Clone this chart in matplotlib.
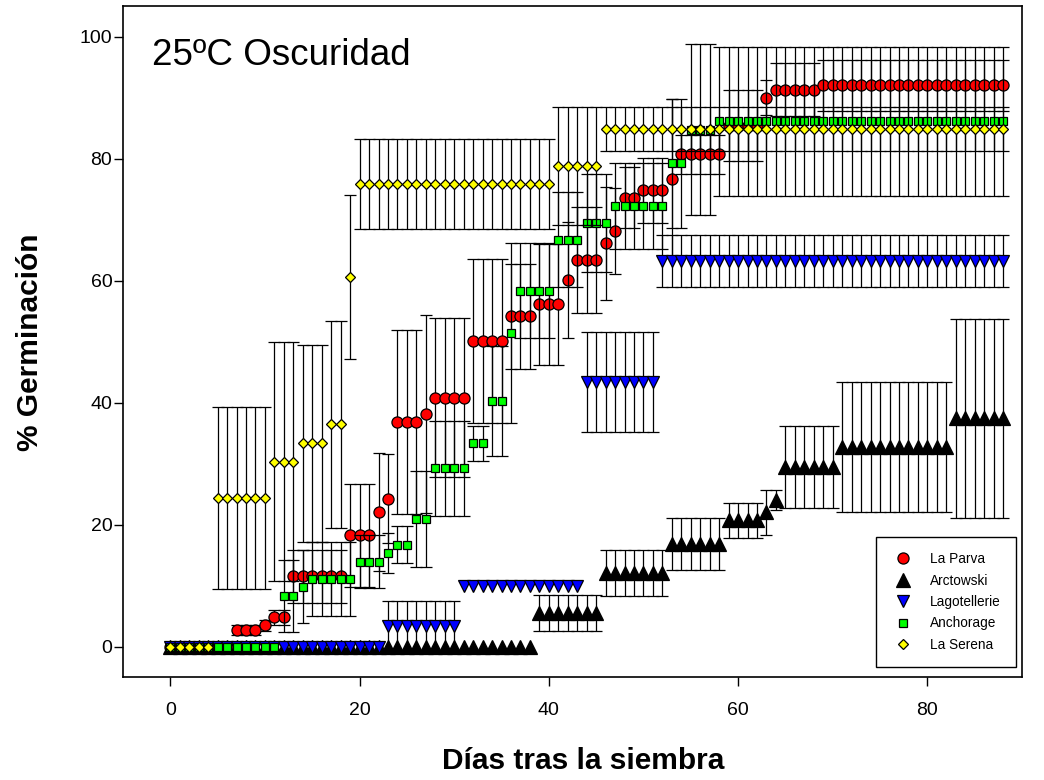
import numpy as np
import matplotlib
matplotlib.use("Agg")
import matplotlib.pyplot as plt
from matplotlib.lines import Line2D

plt.rcParams['font.family'] = ['Liberation Sans', 'DejaVu Sans']

# ---------------- data ----------------
days = list(range(89))

parva = [0, 0, 0, 0, 0, 0, 0, 2.7, 2.7, 2.7,
         3.5, 4.8, 4.8, 11.5, 11.5, 11.5, 11.5, 11.5, 11.5, 18.2,
         18.2, 18.2, 22.1, 24.2, 36.8, 36.8, 36.8, 38.1, 40.8, 40.8,
         40.8, 40.8, 50.1, 50.1, 50.1, 50.1, 54.1, 54.1, 54.1, 56.1,
         56.1, 56.1, 60.1, 63.4, 63.4, 63.4, 66.1, 68.1, 73.6, 73.6,
         74.8, 74.8, 74.8, 76.7, 80.7, 80.7, 80.7, 80.7, 80.7, 85.4,
         85.4, 85.4, 85.4, 90.0, 91.3, 91.3, 91.3, 91.3, 91.3, 92.0,
         92.0, 92.0, 92.0, 92.0, 92.0, 92.0, 92.0, 92.0, 92.0, 92.0,
         92.0, 92.0, 92.0, 92.0, 92.0, 92.0, 92.0, 92.0, 92.0]
parva_err = [0, 0, 0, 0, 0, 0, 0, 0.8, 0.8, 0.8,
             0.9, 1.2, 1.2, 4.3, 4.3, 4.3, 4.3, 4.3, 4.3, 8.4,
             8.4, 8.4, 9.7, 7.3, 15.1, 15.1, 15.1, 16.2, 13.0, 13.0,
             13.0, 13.0, 13.4, 13.4, 13.4, 13.4, 8.6, 8.6, 8.6, 9.9,
             9.9, 9.9, 9.5, 8.7, 8.7, 8.7, 9.3, 7.0, 5.0, 5.0,
             5.3, 5.3, 5.3, 13.0, 3.2, 3.2, 3.2, 3.2, 3.2, 5.8,
             5.8, 5.8, 5.8, 2.8, 4.4, 4.4, 4.4, 4.4, 4.4, 4.2,
             4.2, 4.2, 4.2, 4.2, 4.2, 4.2, 4.2, 4.2, 4.2, 4.2,
             4.2, 4.2, 4.2, 4.2, 4.2, 4.2, 4.2, 4.2, 4.2]

arct = [0, 0, 0, 0, 0, 0, 0, 0, 0, 0,
        0, 0, 0, 0, 0, 0, 0, 0, 0, 0,
        0, 0, 0, 0, 0, 0, 0, 0, 0, 0,
        0, 0, 0, 0, 0, 0, 0, 0, 0, 5.5,
        5.5, 5.5, 5.5, 5.5, 5.5, 5.5, 12.0, 12.0, 12.0, 12.0,
        12.0, 12.0, 12.0, 16.8, 16.8, 16.8, 16.8, 16.8, 16.8, 20.7,
        20.7, 20.7, 20.7, 22.0, 24.0, 29.4, 29.4, 29.4, 29.4, 29.4,
        29.4, 32.7, 32.7, 32.7, 32.7, 32.7, 32.7, 32.7, 32.7, 32.7,
        32.7, 32.7, 32.7, 37.4, 37.4, 37.4, 37.4, 37.4, 37.4]
arct_err = [0, 0, 0, 0, 0, 0, 0, 0, 0, 0,
            0, 0, 0, 0, 0, 0, 0, 0, 0, 0,
            0, 0, 0, 0, 0, 0, 0, 0, 0, 0,
            0, 0, 0, 0, 0, 0, 0, 0, 0, 3.0,
            3.0, 3.0, 3.0, 3.0, 3.0, 3.0, 3.8, 3.8, 3.8, 3.8,
            3.8, 3.8, 3.8, 4.2, 4.2, 4.2, 4.2, 4.2, 4.2, 2.9,
            2.9, 2.9, 2.9, 3.7, 1.7, 6.7, 6.7, 6.7, 6.7, 6.7,
            6.7, 10.7, 10.7, 10.7, 10.7, 10.7, 10.7, 10.7, 10.7, 10.7,
            10.7, 10.7, 10.7, 16.3, 16.3, 16.3, 16.3, 16.3, 16.3]

lago = [0, 0, 0, 0, 0, 0, 0, 0, 0, 0,
        0, 0, 0, 0, 0, 0, 0, 0, 0, 0,
        0, 0, 0, 3.3, 3.3, 3.3, 3.3, 3.3, 3.3, 3.3,
        3.3, 10.0, 10.0, 10.0, 10.0, 10.0, 10.0, 10.0, 10.0, 10.0,
        10.0, 10.0, 10.0, 10.0, 43.3, 43.3, 43.3, 43.3, 43.3, 43.3,
        43.3, 43.3, 63.2, 63.2, 63.2, 63.2, 63.2, 63.2, 63.2, 63.2,
        63.2, 63.2, 63.2, 63.2, 63.2, 63.2, 63.2, 63.2, 63.2, 63.2,
        63.2, 63.2, 63.2, 63.2, 63.2, 63.2, 63.2, 63.2, 63.2, 63.2,
        63.2, 63.2, 63.2, 63.2, 63.2, 63.2, 63.2, 63.2, 63.2]
lago_err = [0, 0, 0, 0, 0, 0, 0, 0, 0, 0,
            0, 0, 0, 0, 0, 0, 0, 0, 0, 0,
            0, 0, 0, 4.1, 4.1, 4.1, 4.1, 4.1, 4.1, 4.1,
            4.1, 0, 0, 0, 0, 0, 0, 0, 0, 0,
            0, 0, 0, 0, 8.2, 8.2, 8.2, 8.2, 8.2, 8.2,
            8.2, 8.2, 4.2, 4.2, 4.2, 4.2, 4.2, 4.2, 4.2, 4.2,
            4.2, 4.2, 4.2, 4.2, 4.2, 4.2, 4.2, 4.2, 4.2, 4.2,
            4.2, 4.2, 4.2, 4.2, 4.2, 4.2, 4.2, 4.2, 4.2, 4.2,
            4.2, 4.2, 4.2, 4.2, 4.2, 4.2, 4.2, 4.2, 4.2]

anch = [0, 0, 0, 0, 0, 0, 0, 0, 0, 0,
        0, 0, 8.3, 8.3, 9.8, 11.1, 11.1, 11.1, 11.1, 11.1,
        13.9, 13.9, 13.9, 15.3, 16.7, 16.7, 20.9, 20.9, 29.2, 29.2,
        29.2, 29.2, 33.3, 33.3, 40.3, 40.3, 51.4, 58.3, 58.3, 58.3,
        58.3, 66.7, 66.7, 66.7, 69.4, 69.4, 69.4, 72.2, 72.2, 72.2,
        72.2, 72.2, 72.2, 79.2, 79.2, 84.7, 84.7, 84.7, 86.1, 86.1,
        86.1, 86.1, 86.1, 86.1, 86.1, 86.1, 86.1, 86.1, 86.1, 86.1,
        86.1, 86.1, 86.1, 86.1, 86.1, 86.1, 86.1, 86.1, 86.1, 86.1,
        86.1, 86.1, 86.1, 86.1, 86.1, 86.1, 86.1, 86.1, 86.1]
anch_err = [0, 0, 0, 0, 0, 0, 0, 0, 0, 0,
            0, 0, 5.9, 5.9, 6.0, 6.1, 6.1, 6.1, 6.1, 6.1,
            4.3, 4.3, 4.3, 3.3, 3.0, 3.0, 7.8, 7.8, 7.8, 7.8,
            7.8, 7.8, 2.9, 2.9, 9.0, 9.0, 14.8, 7.8, 7.8, 7.8,
            7.8, 7.8, 7.8, 7.8, 8.0, 8.0, 8.0, 7.0, 7.0, 7.0,
            7.0, 7.0, 7.0, 10.6, 10.6, 14.0, 14.0, 14.0, 12.2, 12.2,
            12.2, 12.2, 12.2, 12.2, 12.2, 12.2, 12.2, 12.2, 12.2, 12.2,
            12.2, 12.2, 12.2, 12.2, 12.2, 12.2, 12.2, 12.2, 12.2, 12.2,
            12.2, 12.2, 12.2, 12.2, 12.2, 12.2, 12.2, 12.2, 12.2]

seren = [0, 0, 0, 0, 0, 24.3, 24.3, 24.3, 24.3, 24.3,
         24.3, 30.3, 30.3, 30.3, 33.3, 33.3, 33.3, 36.4, 36.4, 60.6,
         75.8, 75.8, 75.8, 75.8, 75.8, 75.8, 75.8, 75.8, 75.8, 75.8,
         75.8, 75.8, 75.8, 75.8, 75.8, 75.8, 75.8, 75.8, 75.8, 75.8,
         75.8, 78.8, 78.8, 78.8, 78.8, 78.8, 84.9, 84.9, 84.9, 84.9,
         84.9, 84.9, 84.9, 84.9, 84.9, 84.9, 84.9, 84.9, 84.9, 84.9,
         84.9, 84.9, 84.9, 84.9, 84.9, 84.9, 84.9, 84.9, 84.9, 84.9,
         84.9, 84.9, 84.9, 84.9, 84.9, 84.9, 84.9, 84.9, 84.9, 84.9,
         84.9, 84.9, 84.9, 84.9, 84.9, 84.9, 84.9, 84.9, 84.9]
seren_err = [0, 0, 0, 0, 0, 14.9, 14.9, 14.9, 14.9, 14.9,
             14.9, 19.6, 19.6, 19.6, 16.2, 16.2, 16.2, 17.0, 17.0, 13.4,
             7.4, 7.4, 7.4, 7.4, 7.4, 7.4, 7.4, 7.4, 7.4, 7.4,
             7.4, 7.4, 7.4, 7.4, 7.4, 7.4, 7.4, 7.4, 7.4, 7.4,
             7.4, 9.7, 9.7, 9.7, 9.7, 9.7, 3.6, 3.6, 3.6, 3.6,
             3.6, 3.6, 3.6, 3.6, 3.6, 3.6, 3.6, 3.6, 3.6, 3.6,
             3.6, 3.6, 3.6, 3.6, 3.6, 3.6, 3.6, 3.6, 3.6, 3.6,
             3.6, 3.6, 3.6, 3.6, 3.6, 3.6, 3.6, 3.6, 3.6, 3.6,
             3.6, 3.6, 3.6, 3.6, 3.6, 3.6, 3.6, 3.6, 3.6]

names = ["La Parva", "Arctowski", "Lagotellerie", "Anchorage", "La Serena"]
x_ticks = [0, 20, 40, 60, 80]
y_ticks = [0, 20, 40, 60, 80, 100]

# ---------------- styles ----------------
styles = [
    dict(marker='o', color='#FF0000', ms=8.0),
    dict(marker='^', color='#000000', ms=10.0),
    dict(marker='v', color='#0000FF', ms=8.8),
    dict(marker='s', color='#00FF00', ms=6.0),
    dict(marker='D', color='#FFFF00', ms=5.4),
]
series = [(parva, parva_err), (arct, arct_err), (lago, lago_err),
          (anch, anch_err), (seren, seren_err)]

fig = plt.figure(figsize=(10.44, 7.80), dpi=100)
ax = fig.add_axes([123/1044, 1 - 677/780, (1022 - 123)/1044, (677 - 6)/780])

d = np.array(days)
handles = []
for i, ((vals, errs), st, name) in enumerate(zip(series, styles, names)):
    v = np.array(vals, dtype=float)
    e = np.array(errs, dtype=float)
    m = e > 0
    ax.errorbar(d[m], v[m], yerr=e[m], fmt='none', ecolor='black',
                elinewidth=0.9, capsize=4.0, capthick=0.9, zorder=2 + 2*i)
    ax.plot(d, v, linestyle='none', marker=st['marker'], ms=st['ms'],
            mfc=st['color'], mec='black', mew=0.9, zorder=3 + 2*i)
    handles.append(Line2D([], [], linestyle='none', marker=st['marker'],
                          ms=st['ms'], mfc=st['color'], mec='black', mew=0.9,
                          label=name))

ax.set_xlim(-5, 90)
ax.set_ylim(-5, 105)
ax.set_xticks(x_ticks)
ax.set_yticks(y_ticks)
ax.tick_params(axis='both', direction='out', length=6.7, width=1.0,
               labelsize=14, colors='black')
ax.tick_params(axis='x', pad=11)
ax.tick_params(axis='y', pad=1.0)
for sp in ax.spines.values():
    sp.set_linewidth(1.2)

ax.text(0.032, 0.912, "25ºC Oscuridad", transform=ax.transAxes,
        fontsize=26.5, ha='left', va='baseline')

fig.text(583/1044, 1 - 761/780, "Días tras la siembra", fontsize=21.5,
         fontweight='bold', ha='center', va='center')
fig.text(30/1044, 1 - 342/780, "% Germinación", fontsize=21.5,
         fontweight='bold', ha='center', va='center', rotation=90)

leg = ax.legend(handles=handles, loc='lower right',
                bbox_to_anchor=(0.993, 0.015), borderaxespad=0,
                fontsize=9.8, frameon=True, fancybox=False, framealpha=1,
                edgecolor='black', labelspacing=0.55, handletextpad=1.1,
                borderpad=1.1, handlelength=1.8)
leg.get_frame().set_linewidth(1.0)
leg.set_zorder(20)

fig.savefig("out.png", dpi=100)
